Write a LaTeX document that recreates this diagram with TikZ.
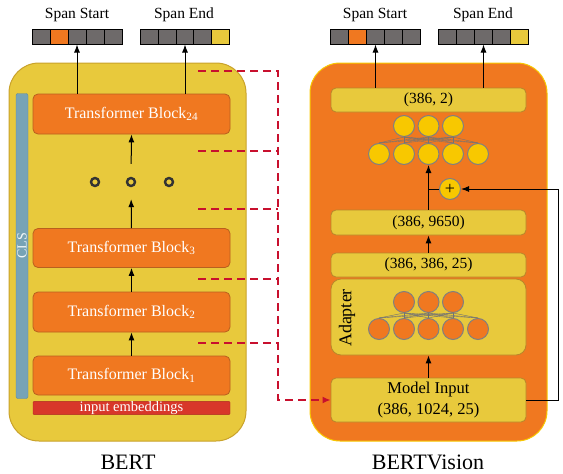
\documentclass[tikz,border=0pt]{standalone}
\usepackage{fontspec}
\setmainfont{Liberation Serif}
\usetikzlibrary{arrows.meta}
\definecolor{panelyellow}{HTML}{E8C93C}
\definecolor{paneledge}{HTML}{C9A22A}
\definecolor{blockorange}{HTML}{F07820}
\definecolor{blockedge}{HTML}{B8601E}
\definecolor{boxedge}{HTML}{B8862A}
\definecolor{neuronyellow}{HTML}{F8C800}
\definecolor{cellgray}{HTML}{6E6A6A}
\definecolor{clsblue}{HTML}{77A3B6}
\definecolor{clsedge}{HTML}{5A8AA0}
\definecolor{embred}{HTML}{D8372A}
\definecolor{dashred}{HTML}{C8102E}
\begin{document}
\begin{tikzpicture}[x=1pt,y=-1pt,>={Latex[length=8pt,width=6pt]},
  every node/.style={font=\fontsize{15.5}{18}\selectfont},
  panel/.style={rounded corners=30pt,minimum width=237pt,minimum height=378pt,line width=1pt},
  block/.style={draw=blockedge,fill=blockorange,rounded corners=5pt,minimum width=197pt,minimum height=40pt,text=white,line width=0.8pt,font=\fontsize{16}{18}\selectfont},
  shapebox/.style={draw=boxedge,fill=panelyellow,rounded corners=5pt,minimum width=195pt,minimum height=24pt,inner sep=0pt,line width=0.8pt},
  cell/.style={draw=black,minimum width=18pt,minimum height=15pt,inner sep=0pt,line width=1pt},
  neuron/.style={circle,draw=gray,minimum size=21pt,inner sep=0pt,line width=1pt},
  ring/.style={circle,draw=black!80,minimum size=8pt,inner sep=0pt,line width=2.4pt},
  netline/.style={draw=black!55,line width=0.4pt},
  redline/.style={draw=dashred,line width=1.6pt,dash pattern=on 8pt off 5pt},
  flow/.style={->,line width=1pt}]
\useasboundingbox (0,0) rectangle (563,474);
\node [panel,draw=paneledge,fill=panelyellow] (bert) at (127.5,252) {};
\node [panel,draw=neuronyellow,fill=blockorange] (vision) at (428.5,252) {};
\node [draw=clsedge,fill=clsblue,rounded corners=2pt,minimum width=305pt,minimum height=12pt,inner sep=0pt,text=white!90!clsblue,rotate=90,font=\fontsize{14}{16}\selectfont] (cls) at (22,246) {CLS};
\node [block] (b24) at (131.5,114) {Transformer Block\textsubscript{24}};
\node [block,minimum height=39pt] (b3) at (131.5,248) {Transformer Block\textsubscript{3}};
\node [block] (b2) at (131.5,312) {Transformer Block\textsubscript{2}};
\node [block,minimum height=39pt] (b1) at (131.5,375.5) {Transformer Block\textsubscript{1}};
\node [draw=embred!80!black,fill=embred,rounded corners=1pt,minimum width=197pt,minimum height=12pt,inner sep=0pt,text=white,font=\fontsize{14.5}{16}\selectfont] (emb) at (131.5,408) {input embeddings};
\node [ring] (d1) at (95,182) {};
\node [ring] (d2) at (131,182) {};
\node [ring] (d3) at (169,182) {};
\draw [flow] (b1.north) -- (b2.south);
\draw [flow] (b2.north) -- (b3.south);
\draw [flow,shorten >=12pt] (b3.north) -- (d2.south);
\draw [flow,shorten <=13pt] (d2.north) -- (b24.south);
\foreach \i/\c in {1/cellgray,2/blockorange,3/cellgray,4/cellgray,5/cellgray}
  \node [cell,fill=\c] (ss\i) at ({32+18*(\i-0.5)},36.5) {};
\foreach \i/\c in {1/cellgray,2/cellgray,3/cellgray,4/cellgray,5/panelyellow}
  \node [cell,fill=\c] (se\i) at ({141+17.6*(\i-0.5)},36.5) {};
\node (sslbl) at (77,15) {Span Start};
\node (selbl) at (184,15) {Span End};
\draw [flow] (b24.north -| ss3) -- (ss3.south);
\draw [flow] (b24.north -| se3) -- (se3.south);
\node [font=\fontsize{22}{26}\selectfont] (bertlbl) at (128,462) {BERT};
\node [shapebox] (out) at (428.5,100) {(386, 2)};
\foreach \i/\c in {1/cellgray,2/blockorange,3/cellgray,4/cellgray,5/cellgray}
  \node [cell,fill=\c] (rss\i) at ({331+17.8*(\i-0.5)},36.5) {};
\foreach \i/\c in {1/cellgray,2/cellgray,3/cellgray,4/cellgray,5/panelyellow}
  \node [cell,fill=\c] (rse\i) at ({439+17.8*(\i-0.5)},36.5) {};
\node (rsslbl) at (375,15) {Span Start};
\node (rselbl) at (483,15) {Span End};
\draw [flow] (out.north -| rss3) -- (rss3.south);
\draw [flow] (out.north -| rse3) -- (rse3.south);
\foreach \i/\x in {1/404,2/428.5,3/453}
  \node [neuron,fill=neuronyellow] (ot\i) at (\x,126) {};
\foreach \i/\x in {1/379,2/404,3/428.5,4/453,5/478}
  \node [neuron,fill=neuronyellow] (ob\i) at (\x,154) {};
\foreach \t in {1,2,3}
  \foreach \b in {1,...,5}
    \draw [netline] (ot\t.south) -- (ob\b.north);
\node [circle,draw=gray,fill=neuronyellow,minimum size=21pt,inner sep=0pt,line width=1pt,font=\fontsize{18}{18}\selectfont] (plus) at (450,189) {+};
\node [shapebox,minimum height=25pt] (c9650) at (428.5,222.5) {(386, 9650)};
\node [shapebox] (c386) at (428.5,265) {(386, 386, 25)};
\node [shapebox,minimum height=76pt,rounded corners=10pt] (adapter) at (428.5,317) {};
\node [rotate=90,font=\fontsize{18}{20}\selectfont] (adlbl) at (347,318) {Adapter};
\foreach \i/\x in {1/404,2/428.5,3/453}
  \node [neuron,fill=blockorange] (at\i) at (\x,302) {};
\foreach \i/\x in {1/379,2/404,3/428.5,4/453,5/478}
  \node [neuron,fill=blockorange] (ab\i) at (\x,329) {};
\foreach \t in {1,2,3}
  \foreach \b in {1,...,5}
    \draw [netline] (at\t.south) -- (ab\b.north);
\node [shapebox,minimum height=44pt,align=center,font=\fontsize{16.5}{21}\selectfont] (mi) at (428.5,400) {Model Input\\(386, 1024, 25)};
\draw [flow] (mi.north) -- (adapter.south);
\draw [flow] (c386.north) -- (c9650.south);
\draw [flow] (c9650.north) -- (ob3.south);
\draw [line width=1pt] (c9650.north |- plus) -- (plus.west);
\draw [flow] (mi.east) -- ++(32,0) |- (plus.east);
\node [font=\fontsize{22}{26}\selectfont] (visionlbl) at (428,462) {BERTVision};
\coordinate (h1) at (198,71);
\coordinate (h2) at (198,151);
\coordinate (h3) at (198,209);
\coordinate (h4) at (198,279);
\coordinate (h5) at (198,343);
\coordinate (rc) at (278,400);
\draw [redline,->,>={Latex[length=8pt,width=7pt]}] (h1) -| (rc) -- (mi.west);
\foreach \h in {h2,h3,h4,h5}
  \draw [redline] (\h) -- (\h -| rc);
\end{tikzpicture}
\end{document}
